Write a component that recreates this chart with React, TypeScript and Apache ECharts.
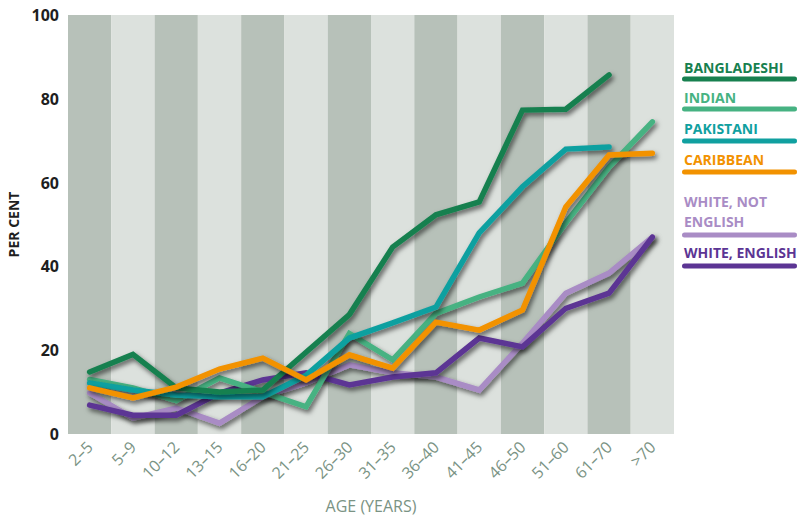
import React, { useEffect, useRef } from "react";
import * as echarts from "echarts";

const categories = ["2–5", "5–9", "10–12", "13–15", "16–20", "21–25", "26–30", "31–35", "36–40", "41–45", "46–50", "51–60", "61–70", ">70"];
const yTicks = [0, 20, 40, 60, 80, 100];

const seriesNames = ["BANGLADESHI", "INDIAN", "PAKISTANI", "CARIBBEAN", "WHITE, NOT ENGLISH", "WHITE, ENGLISH"];
const legendLines = [["BANGLADESHI"], ["INDIAN"], ["PAKISTANI"], ["CARIBBEAN"], ["WHITE, NOT", "ENGLISH"], ["WHITE, ENGLISH"]];
const seriesColors = ["#17804f", "#46b282", "#10a0a0", "#f29200", "#a98cc5", "#5c3594"];

const bangladeshi = [14.8, 19, 11, 10, 10.5, 19.5, 28.5, 44.6, 52.3, 55.4, 77.3, 77.5, 85.7, null];
const indian = [13, 11, 8, 13.4, 10, 6.5, 24, 17.7, 28.8, 32.7, 36, 50.4, 63.7, 74.5];
const pakistani = [12.2, 10.5, 9.3, 8.9, 8.9, 14, 22.9, 26.5, 30.3, 48, 59, 68, 68.5, null];
const caribbean = [11, 8.6, 11.2, 15.5, 18.1, 12.9, 18.9, 15.7, 26.7, 24.8, 29.6, 54.2, 66.6, 67];
const whiteNotEnglish = [9.8, 3.8, 6.2, 2.6, 8.9, 12.2, 16.5, 14.6, 13.6, 10.5, 21.7, 33.6, 38.4, 47];
const whiteEnglish = [6.9, 4.5, 4.5, 9.8, 12.9, 14.6, 11.7, 13.6, 14.6, 22.9, 20.8, 30, 33.6, 47];

const seriesData = [bangladeshi, indian, pakistani, caribbean, whiteNotEnglish, whiteEnglish];
const drawOrder = [4, 5, 1, 2, 0, 3];

const FONT = "'Open Sans', 'DejaVu Sans', sans-serif";

export default function App() {
  const ref = useRef<HTMLDivElement>(null);
  useEffect(() => {
    if (!ref.current) return;
    const chart = echarts.init(ref.current, undefined, { renderer: "svg" });

    const legendFirstLineY = [67, 97, 128, 159, 201, 252];
    const legendBarY = [79, 109, 141, 172, 235, 266];
    const graphics: any[] = [];
    legendLines.forEach((lines, i) => {
      lines.forEach((line, j) => {
        graphics.push({
          type: "text",
          x: 684,
          y: legendFirstLineY[i] + j * 20,
          style: {
            text: line,
            fill: seriesColors[i],
            font: `bold 14px ${FONT}`,
            verticalAlign: "middle",
            align: "left",
          },
        });
      });
      graphics.push({
        type: "rect",
        shape: { x: 682, y: legendBarY[i] - 2.5, width: 115, height: 5, r: 2.5 },
        style: { fill: seriesColors[i] },
      });
    });

    chart.setOption({
      animation: false,
      backgroundColor: "#ffffff",
      textStyle: { fontFamily: FONT },
      grid: { left: 68, top: 15, width: 606, height: 419, outerBoundsMode: "none", containLabel: false },
      xAxis: {
        type: "category",
        data: categories,
        boundaryGap: true,
        axisLine: { show: false },
        axisTick: { show: false },
        splitLine: { show: false },
        splitArea: { show: true, areaStyle: { color: ["#b7c1b9", "#dce1dd"] } },
        axisLabel: {
          rotate: 45,
          margin: 10,
          color: "#7a9384",
          fontSize: 16,
          fontFamily: FONT,
          interval: 0,
        },
        name: "AGE (YEARS)",
        nameLocation: "middle",
        nameGap: 64,
        nameTextStyle: { color: "#7a9384", fontSize: 16, fontFamily: FONT },
      },
      yAxis: {
        type: "value",
        min: yTicks[0],
        max: yTicks[yTicks.length - 1],
        interval: 20,
        axisLine: { show: false },
        axisTick: { show: false },
        splitLine: { show: false },
        axisLabel: { color: "#1e1e1e", fontSize: 16, fontWeight: "bold", margin: 9, fontFamily: FONT },
        name: "PER CENT",
        nameLocation: "middle",
        nameGap: 46,
        nameRotate: 90,
        nameTextStyle: { color: "#1e1e1e", fontSize: 14, fontWeight: "bold", fontFamily: FONT },
      },
      series: drawOrder.map((i) => ({
        type: "line",
        name: seriesNames[i],
        data: seriesData[i],
        symbol: "none",
        connectNulls: false,
        lineStyle: {
          color: seriesColors[i],
          width: 5.5,
          cap: "round",
          join: "miter",
          shadowColor: "rgba(0,0,0,0.6)",
          shadowBlur: 5,
          shadowOffsetX: 2,
          shadowOffsetY: 3,
        },
        z: 2,
      })),
      graphic: graphics,
    });
    return () => chart.dispose();
  }, []);
  return <div ref={ref} style={{ position: "absolute", left: 0, top: 0, width: 802, height: 520 }} />;
}
